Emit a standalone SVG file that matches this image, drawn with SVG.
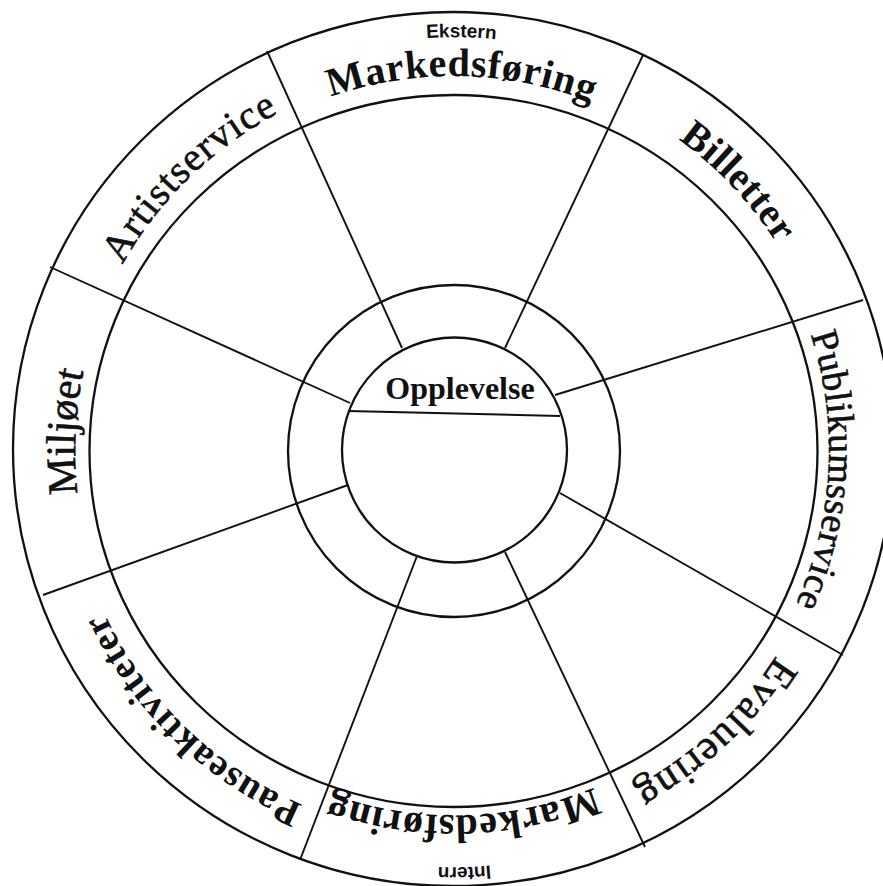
<svg xmlns="http://www.w3.org/2000/svg" xmlns:xlink="http://www.w3.org/1999/xlink" width="883" height="886" viewBox="0 0 883 886">
  <style>
    .ring { fill: none; stroke: #111; stroke-width: 2.3; }
    .spoke { stroke: #111; stroke-width: 1.9; fill: none; }
    .lbl { font-family: "Liberation Serif", "DejaVu Serif", serif; fill: #111; }
    .b { font-weight: bold; }
    .r { stroke: #111; stroke-width: 0.6; }
    .small { font-family: "Liberation Sans", "DejaVu Sans", sans-serif; font-weight: bold; font-size: 19px; fill: #111; }
  </style>
  <defs>
    <!-- clockwise arcs around the centre, midpoint at the top; rotated per label -->
    <path id="a374" d="M 85.7 385.1 A 374 374 0 0 1 822.3 385.1"/>
    <path id="a383" d="M 76.8 383.5 A 383 383 0 0 1 831.2 383.5"/>
    <path id="a375" d="M 84.7 384.9 A 375 375 0 0 1 823.3 384.9"/>
    <path id="a382" d="M 77.8 383.7 A 382 382 0 0 1 830.2 383.7"/>
    <path id="a365" d="M 94.5 386.6 A 365 365 0 0 1 813.5 386.6"/>
    <path id="a386" d="M 73.9 383.0 A 386 386 0 0 1 834.1 383.0"/>
    <path id="a379" d="M 80.8 384.2 A 379 379 0 0 1 827.2 384.2"/>
    <path id="a380" d="M 79.8 384.0 A 380 380 0 0 1 828.2 384.0"/>
    <path id="a413" d="M 47.3 378.3 A 413 413 0 0 1 860.7 378.3"/>
    <path id="a417" d="M 43.3 377.6 A 417 417 0 0 1 864.7 377.6"/>
  </defs>

  <rect width="883" height="886" fill="#fff"/>

  <!-- rings -->
  <g id="rings">
    <ellipse class="ring" cx="453" cy="449" rx="440" ry="437"/>
    <ellipse class="ring" cx="453.5" cy="451" rx="364" ry="356"/>
    <circle class="ring" cx="454" cy="451" r="166"/>
    <circle class="ring" cx="454.5" cy="450" r="112.5"/>
  </g>

  <!-- dividers -->
  <g id="connectors">
    <line class="spoke" x1="267" y1="51" x2="402" y2="348"/>
    <line class="spoke" x1="643" y1="55" x2="505" y2="348"/>
    <line class="spoke" x1="863" y1="300" x2="555" y2="395"/>
    <line class="spoke" x1="843" y1="655" x2="560" y2="493"/>
    <line class="spoke" x1="645" y1="847" x2="505" y2="552"/>
    <line class="spoke" x1="300" y1="860" x2="417" y2="556"/>
    <line class="spoke" x1="43" y1="595" x2="348" y2="485"/>
    <line class="spoke" x1="50" y1="267" x2="350" y2="403"/>
    <line class="spoke" x1="348" y1="411" x2="560" y2="416"/>
  </g>

  <g id="centre">
    <text class="lbl b" x="460" y="399" font-size="32" text-anchor="middle">Opplevelse</text>
  </g>

  <g id="ekstern-markedsforing">
    <text class="small" transform="rotate(1 454 450)"><textPath xlink:href="#a413" href="#a413" startOffset="50%" text-anchor="middle">Ekstern</textPath></text>
    <text class="lbl b" font-size="40" letter-spacing="0.7" transform="rotate(1.2 454 450)"><textPath xlink:href="#a374" href="#a374" startOffset="50%" text-anchor="middle">Markedsføring</textPath></text>
  </g>

  <g id="billetter">
    <text class="lbl b" font-size="40" letter-spacing="0.5" transform="rotate(46.65 454 450)"><textPath xlink:href="#a383" href="#a383" startOffset="50%" text-anchor="middle">Billetter</textPath></text>
  </g>

  <g id="publikumsservice">
    <text class="lbl r" font-size="38" letter-spacing="0.4" transform="rotate(93.2 454 450)"><textPath xlink:href="#a375" href="#a375" startOffset="50%" text-anchor="middle">Publikumsservice</textPath></text>
  </g>

  <g id="evaluering">
    <text class="lbl r" font-size="42" letter-spacing="1.3" transform="rotate(137.35 454 450)"><textPath xlink:href="#a382" href="#a382" startOffset="50%" text-anchor="middle">Evaluering</textPath></text>
  </g>

  <g id="intern-markedsforing">
    <text class="lbl b" font-size="40" letter-spacing="0.9" transform="rotate(178.6 454 450)"><textPath xlink:href="#a365" href="#a365" startOffset="50%" text-anchor="middle">Markedsføring</textPath></text>
    <text class="small" transform="rotate(178.6 454 450)"><textPath xlink:href="#a417" href="#a417" startOffset="50%" text-anchor="middle">Intern</textPath></text>
  </g>

  <g id="pauseaktiviteter">
    <text class="lbl b" font-size="38" letter-spacing="1.2" transform="rotate(224.1 454 450)"><textPath xlink:href="#a386" href="#a386" startOffset="50%" text-anchor="middle">Pauseaktiviteter</textPath></text>
  </g>

  <g id="miljoet">
    <text class="lbl r" font-size="42" transform="rotate(272.7 454 450)"><textPath xlink:href="#a379" href="#a379" startOffset="50%" text-anchor="middle">Miljøet</textPath></text>
  </g>

  <g id="artistservice">
    <text class="lbl r" font-size="40" letter-spacing="1.3" transform="rotate(-44.1 454 450)"><textPath xlink:href="#a380" href="#a380" startOffset="50%" text-anchor="middle">Artistservice</textPath></text>
  </g>
</svg>
